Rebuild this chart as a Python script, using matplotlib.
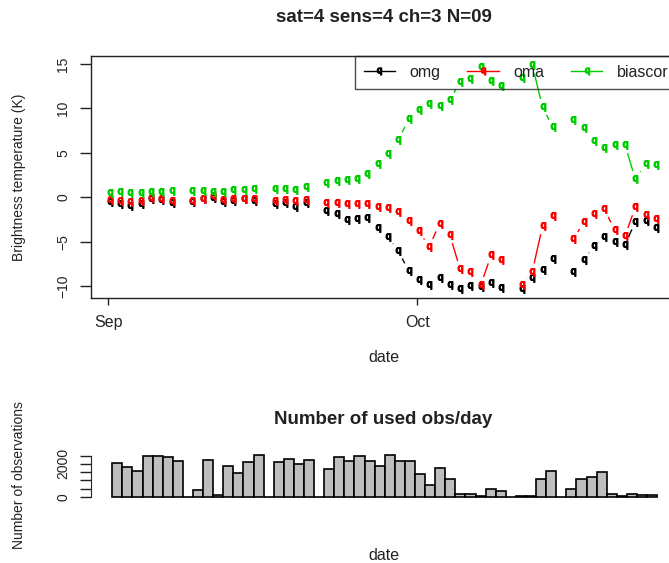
import numpy as np
import matplotlib.pyplot as plt
from matplotlib.collections import LineCollection
from matplotlib.lines import Line2D

plt.rcParams['font.family'] = ['Liberation Sans', 'DejaVu Sans']
plt.rcParams['mathtext.fontset'] = 'custom'
plt.rcParams['mathtext.rm'] = 'Liberation Sans'

# days since 1 Sep; nan = no data that day
days = np.arange(54)
nan = np.nan
omg = [-0.49, -0.79, -0.94, -0.75, -0.20, -0.34, -0.67, nan,
       -0.49, -0.22, -0.05, -0.56, -0.38, -0.22, -0.38, nan,
       -0.79, -0.67, -1.05, -0.60, nan,
       -1.50, -1.90, -2.55, -2.45, -2.36, -3.48, -4.43, -6.03, -8.27,
       -9.29, -9.85, -9.05, -9.90, -10.30, -9.95, -10.04, -9.66, -10.15, nan,
       -10.25, -9.03, -8.17, -6.97, nan,
       -8.36, -7.04, -5.44, -4.49, -4.99, -5.36, -2.74, -2.62, -3.41]
oma = [-0.30, -0.42, -0.49, -0.42, -0.11, -0.22, -0.38, nan,
       -0.42, -0.19, 0.11, -0.30, -0.22, -0.19, -0.22, nan,
       -0.38, -0.34, -0.45, -0.34, nan,
       -0.64, -0.60, -0.72, -0.72, -0.72, -1.10, -1.20, -1.67, -2.68,
       -3.83, -5.55, -2.96, -4.24, -8.08, -8.40, -9.85, -6.53, -7.04, nan,
       -9.90, -8.36, -3.22, -2.10, nan,
       -4.72, -2.74, -1.88, -1.35, -3.67, -4.35, -1.12, -1.99, -2.44]
biascor = [0.52, 0.60, 0.48, 0.48, 0.55, 0.63, 0.67, nan,
           0.71, 0.74, 0.63, 0.63, 0.82, 0.85, 0.90, nan,
           0.93, 0.90, 0.85, 1.19, nan,
           1.57, 1.80, 1.96, 2.05, 2.60, 3.70, 4.87, 6.44, 8.76,
           9.81, 10.45, 10.26, 10.93, 12.99, 13.29, 14.67, 13.10, 12.50, nan,
           13.37, 14.87, 10.11, 7.87, nan,
           8.69, 7.75, 6.33, 5.57, 5.88, 5.88, 2.06, 3.70, 3.63]
n_obs = [2030, 1830, 1585, 2500, 2500, 2400, 2190, 0,
         400, 2230, 80, 1890, 1460, 2110, 2540, 0,
         2110, 2310, 1970, 2250, 0,
         1665, 2415, 2170, 2500, 2170, 1890, 2560, 2170, 2170,
         1380, 710, 1725, 1075, 180, 180, 40, 450, 345, 0,
         60, 60, 1075, 1585, 0,
         490, 1075, 1220, 1520, 140, 40, 140, 120, 120]

month_ticks = [0, 30]
month_labels = ['Sep', 'Oct']
series = [('omg', omg, 'black'), ('oma', oma, '#FF0000'), ('biascor', biascor, '#00CD00')]
pch = r'$\mathrm{q}$'
txt = '#222222'

W, H = 669, 563
fig = plt.figure(figsize=(W / 100, H / 100), dpi=100)


def px_box(x0, y0, x1, y1):
    return [x0 / W, 1 - y1 / H, (x1 - x0) / W, (y1 - y0) / H]


def gapped_lines(ax, x, y, color, gap=8.5):
    # lines stopping short of each point, like R's type="b"
    disp = ax.transData.transform(np.column_stack([x, y]))
    inv = ax.transData.inverted()
    segs = []
    for p, q in zip(disp[:-1], disp[1:]):
        if np.isnan(p).any() or np.isnan(q).any():
            continue
        d = q - p
        L = np.hypot(*d)
        if L <= 2 * gap:
            continue
        u = d / L
        segs.append(inv.transform([p + u * gap, q - u * gap]))
    ax.add_collection(LineCollection(segs, colors=color, linewidths=1.0))


# --- brightness temperature departures ---
ax = fig.add_axes(px_box(91, 56, 676, 297.5))
ax.set_xlim(-1.68, 55.1)
ax.set_ylim(-11.26, 15.88)
for name, vals, col in series:
    x = days + 0.15
    y = np.array(vals, dtype=float)
    gapped_lines(ax, x, y, col)
    ax.plot(x, y, ls='none', marker=pch, ms=5.5, color=col)

ax.set_xticks(month_ticks)
ax.set_xticklabels(month_labels)
ax.set_yticks([-10, -5, 0, 5, 10, 15])
ax.tick_params(axis='x', length=5.3, width=1, pad=7, labelsize=11.5, colors=txt)
ax.tick_params(axis='y', length=8, width=1, pad=7, labelsize=10, colors=txt, labelrotation=90)
for lab in ax.get_yticklabels():
    lab.set_va('center')
for s in ax.spines.values():
    s.set_color('#222222')
    s.set_linewidth(1)

handles = [Line2D([], [], color=c, marker=pch, ms=5, lw=1) for _, _, c in series]
leg = ax.legend(handles, [n for n, _, _ in series], ncol=3, loc='upper left',
                bbox_to_anchor=(355 / W, 1 - 56 / H), bbox_transform=fig.transFigure,
                borderaxespad=0, frameon=True, fancybox=False, edgecolor='#222222',
                facecolor='none', borderpad=0.55, handlelength=1.95, handletextpad=0.9,
                columnspacing=1.7, fontsize=11.5, labelcolor=txt)
leg.get_frame().set_linewidth(1)

fig.text(383.5 / W, 1 - 18 / H, 'sat=4 sens=4 ch=3 N=09', ha='center', va='center',
         fontsize=13.5, fontweight='bold', color=txt)
fig.text(19 / W, 1 - 177 / H, 'Brightness temperature (K)', rotation=90,
         ha='center', va='center', fontsize=10, color=txt)
fig.text(383.5 / W, 1 - 357 / H, 'date', ha='center', va='center', fontsize=11.5, color=txt)

# --- observation counts ---
ax2 = fig.add_axes(px_box(91, 453, 676, 498.4))
ax2.bar(days, n_obs, width=1, align='edge', color='#BEBEBE', edgecolor='black', linewidth=1.2)
ax2.set_xlim(-2.11, 55.87)
ax2.set_ylim(-104, 2666)
for side in ['top', 'right', 'bottom']:
    ax2.spines[side].set_visible(False)
ax2.spines['left'].set_bounds(0, 2500)
ax2.spines['left'].set_color('#222222')
ax2.set_xticks([])
ax2.set_yticks([0, 500, 1000, 1500, 2000, 2500])
ax2.set_yticklabels(['0', '', '', '', '2000', ''])
ax2.tick_params(axis='y', length=8, width=1, pad=7, labelsize=10, colors=txt, labelrotation=90)
for lab in ax2.get_yticklabels():
    lab.set_va('center')

fig.text(383.5 / W, 1 - 419 / H, 'Number of used obs/day', ha='center', va='center',
         fontsize=13.5, fontweight='bold', color=txt)
fig.text(19 / W, 1 - 475 / H, 'Number of observations', rotation=90,
         ha='center', va='center', fontsize=10, color=txt)
fig.text(383.5 / W, 1 - 555 / H, 'date', ha='center', va='center', fontsize=11.5, color=txt)

fig.savefig('out.png', dpi=100)
